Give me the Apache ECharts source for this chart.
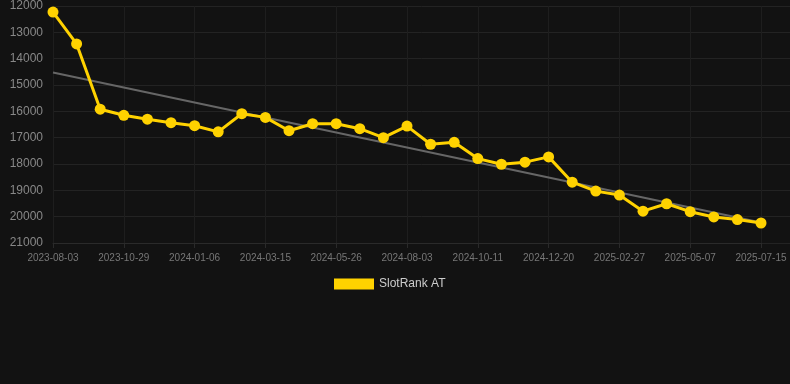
<!DOCTYPE html>
<html>
<head>
<meta charset="utf-8">
<script src="https://cdn.jsdelivr.net/npm/echarts@6/dist/echarts.min.js"></script>
<style>html,body{margin:0;padding:0;background:#121212;}#c{width:790px;height:384px;}</style>
</head>
<body>
<div id="c"></div>
<script>
var dates = ['2023-08-03','2023-09-01','2023-09-30','2023-10-29','2023-11-21','2023-12-14','2024-01-06','2024-01-29','2024-02-21','2024-03-15','2024-04-08','2024-05-02','2024-05-26','2024-06-18','2024-07-11','2024-08-03','2024-08-26','2024-09-18','2024-10-11','2024-11-03','2024-11-27','2024-12-20','2025-01-12','2025-02-04','2025-02-27','2025-03-22','2025-04-14','2025-05-07','2025-05-30','2025-06-22','2025-07-15'];
var rankValues = [12230,13440,15920,16150,16300,16430,16545,16780,16090,16230,16735,16470,16470,16660,17000,16560,17250,17175,17795,18010,17930,17730,18690,19030,19180,19790,19510,19810,20010,20110,20240];
var trendStart = 14525;
var trendEnd = 20220;
var seriesName = 'SlotRank AT';
var yMin = 12000, yMax = 21000, yStep = 1000;

var trendData = dates.map(function(d, i){
  if (i === 0) return trendStart;
  if (i === dates.length - 1) return trendEnd;
  return null;
});

var font = 'Liberation Sans, Arial, sans-serif';
var chart = echarts.init(document.getElementById('c'), null, {renderer:'canvas'});
chart.setOption({
  backgroundColor: '#121212',
  animation: false,
  grid: [
    {left: 53, right: 29, top: 6, bottom: 141, containLabel: false},
    {left: 53, right: 0, top: 6, bottom: 141, containLabel: false}
  ],
  legend: {
    data: [seriesName],
    top: 273,
    left: 329,
    itemWidth: 40,
    itemHeight: 11,
    icon: 'rect',
    textStyle: {color: '#cccccc', fontSize: 12, fontFamily: font}
  },
  xAxis: [
    {
      type: 'category',
      gridIndex: 0,
      data: dates,
      boundaryGap: false,
      axisLine: {show: true, lineStyle: {color: '#2a2a2a'}},
      axisTick: {show: true, interval: 2, lineStyle: {color: '#2a2a2a'}},
      axisLabel: {interval: 2, color: '#777777', fontSize: 10, margin: 10, fontFamily: font},
      splitLine: {show: true, interval: 2, lineStyle: {color: '#1e1e1e'}}
    },
    {
      type: 'value', gridIndex: 1, min: 0, max: 1, show: false
    }
  ],
  yAxis: [
    {
      type: 'value',
      gridIndex: 0,
      inverse: true,
      min: yMin, max: yMax, interval: yStep,
      axisLine: {show: false},
      axisTick: {show: false},
      axisLabel: {color: '#888888', fontSize: 12, margin: 10, fontFamily: font, formatter: function(v){ return String(v); }},
      splitLine: {show: false}
    },
    {
      type: 'value',
      gridIndex: 1,
      inverse: true,
      min: yMin, max: yMax, interval: yStep,
      axisLine: {show: false},
      axisTick: {show: false},
      axisLabel: {show: false},
      splitLine: {show: true, lineStyle: {color: '#232323'}}
    }
  ],
  series: [
    {
      name: 'trend',
      type: 'line',
      xAxisIndex: 0, yAxisIndex: 0,
      data: trendData,
      connectNulls: true,
      symbol: 'none',
      silent: true,
      lineStyle: {color: '#666666', width: 2},
      z: 3
    },
    {
      name: seriesName,
      type: 'line',
      xAxisIndex: 0, yAxisIndex: 0,
      data: rankValues,
      symbol: 'circle',
      symbolSize: 11,
      itemStyle: {color: '#FFD200'},
      lineStyle: {color: '#FFD200', width: 3},
      z: 4
    }
  ]
});
</script>
</body>
</html>
